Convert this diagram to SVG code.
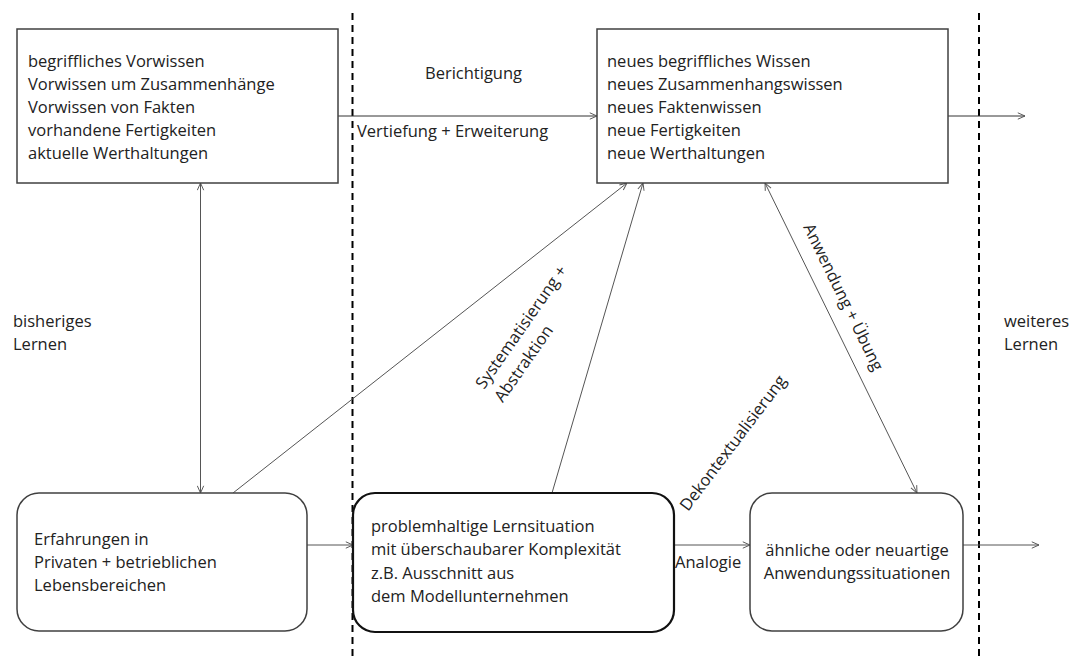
<svg xmlns="http://www.w3.org/2000/svg" width="1075" height="660" viewBox="0 0 1075 660">
<style>
text{font-family:"Open Sans","Noto Sans","Liberation Sans",sans-serif;font-size:16.5px;fill:#222}
.box{fill:#fff;stroke:#404040;stroke-width:1.5}
.bold{fill:#fff;stroke:#111;stroke-width:2.2}
.dash{stroke:#000;stroke-width:2;stroke-dasharray:7,5;fill:none}
.c{stroke:#555;stroke-width:1;fill:none}
.cd{stroke:#333;stroke-width:1;fill:none}
</style>
<defs>
<marker id="arr" viewBox="0 0 10 10" refX="10" refY="5" markerWidth="8" markerHeight="8" markerUnits="userSpaceOnUse" orient="auto-start-reverse">
<path d="M1,1 L10,5 L1,9" fill="none" stroke="#555" stroke-width="1.2"/>
</marker>
</defs>
<rect width="1075" height="660" fill="#fff"/>
<g id="separators">
<line class="dash" x1="352.5" y1="13" x2="352.5" y2="660"/>
<line class="dash" x1="979" y1="13" x2="979" y2="660"/>
</g>
<g id="connectors">
<line class="cd" x1="338" y1="116" x2="597" y2="116" marker-end="url(#arr)"/>
<line class="cd" x1="948" y1="116" x2="1025" y2="116" marker-end="url(#arr)"/>
<line class="c" x1="200.5" y1="183" x2="200.5" y2="493" marker-start="url(#arr)" marker-end="url(#arr)"/>
<line class="c" x1="233" y1="493" x2="627" y2="183" marker-end="url(#arr)"/>
<line class="c" x1="552" y1="493" x2="643" y2="183" marker-end="url(#arr)"/>
<line class="c" x1="765" y1="183" x2="917" y2="493" marker-start="url(#arr)" marker-end="url(#arr)"/>
<line class="c" x1="307" y1="545" x2="353" y2="545" marker-end="url(#arr)"/>
<line class="c" x1="674" y1="545" x2="750" y2="545" marker-end="url(#arr)"/>
<line class="c" x1="963" y1="545" x2="1039" y2="545" marker-end="url(#arr)"/>
<text x="425" y="79">Berichtigung</text>
<text x="357" y="137">Vertiefung + Erweiterung</text>
<text transform="translate(484,390) rotate(-55)"><tspan x="0" y="0">Systematisierung +</tspan><tspan x="0" y="23">Abstraktion</tspan></text>
<text transform="translate(688,512) rotate(-53)">Dekontextualisierung</text>
<text transform="translate(803,227) rotate(64)">Anwendung + Übung</text>
<text x="675" y="568">Analogie</text>
<text x="13" y="327">bisheriges</text>
<text x="13" y="350">Lernen</text>
<text x="1004" y="327">weiteres</text>
<text x="1004" y="350">Lernen</text>
</g>
<g id="vorwissen">
<rect class="box" x="17" y="29" width="321" height="154"/>
<text x="28" y="67">begriffliches Vorwissen</text>
<text x="28" y="90">Vorwissen um Zusammenhänge</text>
<text x="28" y="113">Vorwissen von Fakten</text>
<text x="28" y="136">vorhandene Fertigkeiten</text>
<text x="28" y="159">aktuelle Werthaltungen</text>
</g>
<g id="neues-wissen">
<rect class="box" x="597" y="29" width="351" height="154"/>
<text x="607" y="67">neues begriffliches Wissen</text>
<text x="607" y="90">neues Zusammenhangswissen</text>
<text x="607" y="113">neues Faktenwissen</text>
<text x="607" y="136">neue Fertigkeiten</text>
<text x="607" y="159">neue Werthaltungen</text>
</g>
<g id="erfahrungen">
<rect class="box" x="17" y="493" width="290" height="138" rx="22" ry="22"/>
<text x="34" y="545">Erfahrungen in</text>
<text x="34" y="568">Privaten + betrieblichen</text>
<text x="34" y="591">Lebensbereichen</text>
</g>
<g id="lernsituation">
<rect class="bold" x="353" y="493" width="321" height="139" rx="22" ry="22"/>
<text x="371" y="532">problemhaltige Lernsituation</text>
<text x="371" y="555">mit überschaubarer Komplexität</text>
<text x="371" y="579">z.B. Ausschnitt aus</text>
<text x="371" y="602">dem Modellunternehmen</text>
</g>
<g id="anwendung">
<rect class="box" x="750" y="493" width="213" height="138" rx="22" ry="22"/>
<text x="857" y="556" text-anchor="middle">ähnliche oder neuartige</text>
<text x="857" y="579" text-anchor="middle">Anwendungssituationen</text>
</g>
</svg>
